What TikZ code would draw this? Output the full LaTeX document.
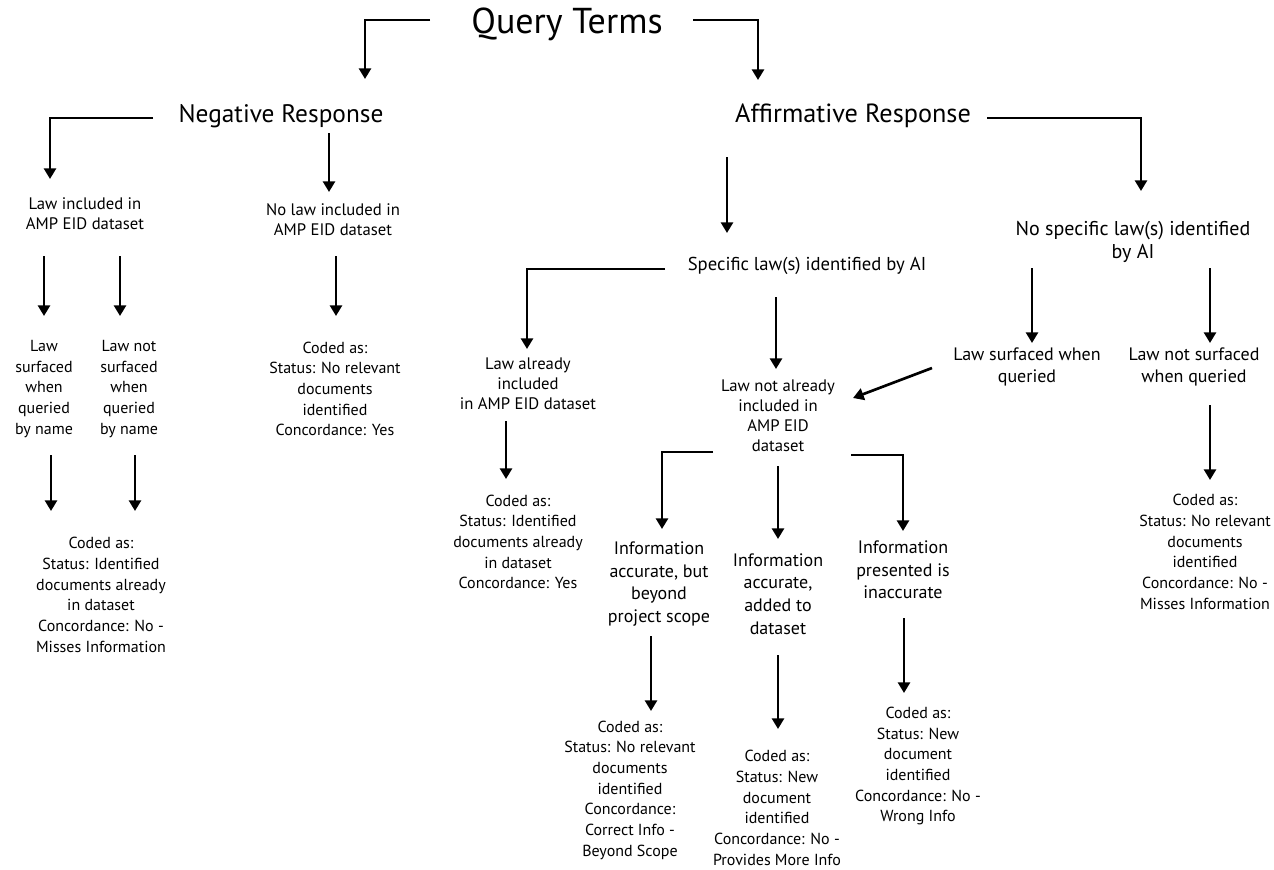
\documentclass[tikz,border=0pt]{standalone}
\usepackage{fontspec}
\setmainfont{PT Sans}
\usetikzlibrary{arrows.meta}
\tikzset{
  arr/.style={line width=2pt, -{Triangle[width=9pt,length=8pt]}},
  txt/.style={align=center, inner sep=0pt},
  fbig/.style={txt, font=\fontsize{27}{31}\selectfont},
  fhead/.style={txt, font=\fontsize{19}{23}\selectfont},
  fmid/.style={txt, font=\fontsize{13.5}{17}\selectfont},
  fsmall/.style={txt, font=\fontsize{12.5}{15}\selectfont},
  fcode/.style={txt, font=\fontsize{12}{15.5}\selectfont},
}
\begin{document}
\begin{tikzpicture}[x=0.75pt,y=-0.75pt]
\useasboundingbox (0,0) rectangle (1274,869);

% nodes
\node[fbig]  (qt)     at (567,24)  {Query Terms};
\node[fhead] (neg)    at (281,116) {Negative Response};
\node[fhead, font=\fontsize{19.7}{23}\selectfont] (aff) at (853,116) {Affirmative Response};
\node[fsmall](lawin)  at (85,214)  {Law included in\\AMP EID dataset};
\node[fsmall](nolaw)  at (333,220) {No law included in\\AMP EID dataset};
\node[fcode] (ls)     at (44,389)  {Law\\surfaced\\when\\queried\\by name};
\node[fcode] (lns)    at (129,389) {Law not\\surfaced\\when\\queried\\by name};
\node[fcode] (c1)     at (335,389) {Coded as:\\Status: No relevant\\documents\\identified\\Concordance: Yes};
\node[fcode] (c2)     at (101,595) {Coded as:\\Status: Identified\\documents already\\in dataset\\Concordance: No -\\Misses Information};
\node[fsmall, font=\fontsize{14}{16}\selectfont](spec) at (807,266) {Specific law(s) identified by AI};
\node[fmid, font=\fontsize{15}{17.5}\selectfont] (nospec) at (1133,242){No specific law(s) identified\\by AI};
\node[fmid]  (lsq)    at (1027,367){Law surfaced when\\queried};
\node[fmid]  (lnsq)   at (1194,367){Law not surfaced\\when queried};
\node[fsmall](already)at (528,384) {Law already\\included\\in AMP EID dataset};
\node[fsmall](notal)  at (778,416) {Law not already\\included in\\AMP EID\\dataset};
\node[fcode] (c3)     at (518,542) {Coded as:\\Status: Identified\\documents already\\in dataset\\Concordance: Yes};
\node[fmid]  (ib)     at (659,584) {Information\\accurate, but\\beyond\\project scope};
\node[fmid]  (ia)     at (778,594) {Information\\accurate,\\added to\\dataset};
\node[fmid]  (ii)     at (903,570) {Information\\presented is\\inaccurate};
\node[fcode] (c4)     at (630,790) {Coded as:\\Status: No relevant\\documents\\identified\\Concordance:\\Correct Info -\\Beyond Scope};
\node[fcode] (c5)     at (777,808) {Coded as:\\Status: New\\document\\identified\\Concordance: No -\\Provides More Info};
\node[fcode] (c6)     at (918,766) {Coded as:\\Status: New\\document\\identified\\Concordance: No -\\Wrong Info};
\node[fcode] (c7)     at (1205,552){Coded as:\\Status: No relevant\\documents\\identified\\Concordance: No -\\Misses Information};

% connector end points
\coordinate (qtL) at (430,20);  \coordinate (negT) at (365,79);
\coordinate (qtR) at (693,20);  \coordinate (affT) at (758,80);
\coordinate (negL) at (153,118); \coordinate (lawinT) at (50,179);
\coordinate (negB) at (329,133); \coordinate (nolawT) at (329,192);
\coordinate (lawinB1) at (44,256); \coordinate (lsT) at (44,316);
\coordinate (lawinB2) at (120,256); \coordinate (lnsT) at (120,316);
\coordinate (nolawB) at (336,256); \coordinate (c1T) at (336,316);
\coordinate (lsB) at (51,455); \coordinate (c2Ta) at (51,511);
\coordinate (lnsB) at (135,455); \coordinate (c2Tb) at (135,511);
\coordinate (affB) at (727,157); \coordinate (specT) at (727,233);
\coordinate (affR) at (987,118); \coordinate (nospecT) at (1141,191);
\coordinate (specL) at (665,269); \coordinate (alreadyT) at (527,349);
\coordinate (specB) at (776,297); \coordinate (notalT) at (776,369);
\coordinate (nospecB1) at (1032,268); \coordinate (lsqT) at (1032,343);
\coordinate (nospecB2) at (1210,268); \coordinate (lnsqT) at (1210,343);
\coordinate (lsqL) at (932,368); \coordinate (notalR) at (853,398);
\coordinate (alreadyB) at (506,421); \coordinate (c3T) at (506,479);
\coordinate (notalL) at (713,452); \coordinate (ibT) at (662,529);
\coordinate (notalB) at (778,466); \coordinate (iaT) at (778,539);
\coordinate (notalR2) at (851,455); \coordinate (iiT) at (903,531);
\coordinate (ibB) at (651,636); \coordinate (c4T) at (651,711);
\coordinate (iaB) at (778,655); \coordinate (c5T) at (778,729);
\coordinate (iiB) at (904,618); \coordinate (c6T) at (904,693);
\coordinate (lnsqB) at (1210,405); \coordinate (c7T) at (1210,480);

% connectors
\draw[arr] (qtL) -| (negT);
\draw[arr] (qtR) -| (affT);
\draw[arr] (negL) -| (lawinT);
\draw[arr] (negB) -- (nolawT);
\draw[arr] (lawinB1) -- (lsT);
\draw[arr] (lawinB2) -- (lnsT);
\draw[arr] (nolawB) -- (c1T);
\draw[arr] (lsB) -- (c2Ta);
\draw[arr] (lnsB) -- (c2Tb);
\draw[arr] (affB) -- (specT);
\draw[arr] (affR) -| (nospecT);
\draw[arr] (specL) -| (alreadyT);
\draw[arr] (specB) -- (notalT);
\draw[arr] (nospecB1) -- (lsqT);
\draw[arr] (nospecB2) -- (lnsqT);
\draw[arr] (lsqL) -- (notalR);
\draw[arr] (alreadyB) -- (c3T);
\draw[arr] (notalL) -| (ibT);
\draw[arr] (notalB) -- (iaT);
\draw[arr] (notalR2) -| (iiT);
\draw[arr] (ibB) -- (c4T);
\draw[arr] (iaB) -- (c5T);
\draw[arr] (iiB) -- (c6T);
\draw[arr] (lnsqB) -- (c7T);
\end{tikzpicture}
\end{document}
